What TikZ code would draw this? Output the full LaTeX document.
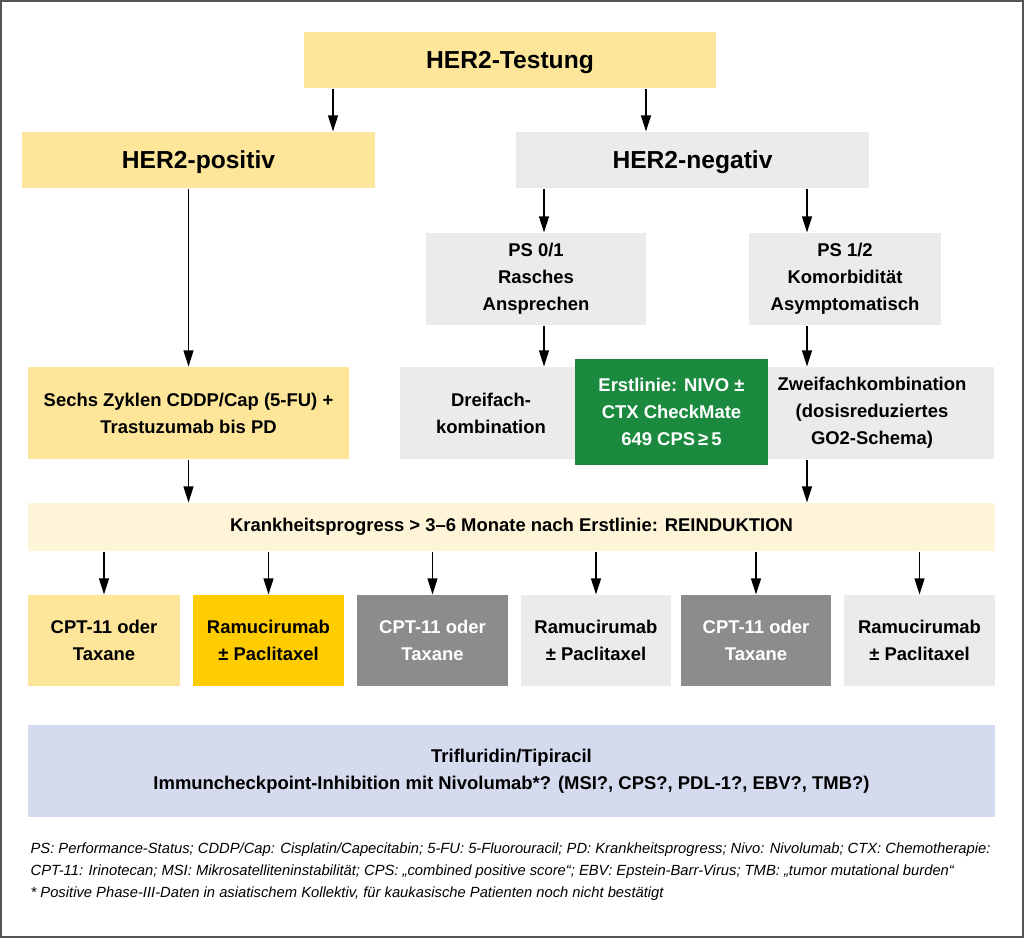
\documentclass[tikz,border=0pt]{standalone}
\usepackage{fontspec}
\setmainfont{Liberation Sans}
\usetikzlibrary{arrows.meta}

\definecolor{gelbhell}{HTML}{FDE69A}
\definecolor{gelbbalken}{HTML}{FEF5D8}
\definecolor{gold}{HTML}{FFCC00}
\definecolor{grauhell}{HTML}{EBEBEB}
\definecolor{graumittel}{HTML}{8C8C8C}
\definecolor{gruen}{HTML}{1B8A3F}
\definecolor{lavendel}{HTML}{D5DBEF}
\definecolor{rahmen}{HTML}{555555}

\newcommand{\titelfont}{\bfseries\fontsize{14}{16}\selectfont}
\newcommand{\boxfont}{\bfseries\fontsize{10.5}{15.3}\selectfont}
\newcommand{\notizfont}{\itshape\fontsize{8.4}{13}\selectfont}

\begin{document}
\begin{tikzpicture}[x=0.02cm, y=-0.02cm, line width=0.7pt,
    box/.style={fill=#1, inner sep=0pt, align=center, font=\boxfont},
    titel/.style={box=#1, font=\titelfont, text depth=0pt, minimum height=1.12cm},
    pfeil/.style={-{Triangle[length=0.32cm, width=0.2cm]}},
    notiz/.style={anchor=base west, inner sep=0pt, font=\notizfont}]
    \useasboundingbox (0,0) rectangle (1024,943);
    % Rahmen
    \draw[rahmen, line width=1.1pt] (1,1) rectangle (1023,937);

    % Spalten fuer die Pfeile
    \coordinate (k1) at (333,0);
    \coordinate (k2) at (646,0);
    \coordinate (k3) at (544,0);
    \coordinate (k4) at (807,0);

    % Testung und Zweige
    \node[titel=gelbhell, minimum width=8.24cm] (test) at (510,60) {HER2-Testung};
    \node[titel=gelbhell, minimum width=7.06cm] (pos) at (198.5,160) {HER2-positiv};
    \node[titel=grauhell, minimum width=7.06cm] (neg) at (692.5,160) {HER2-negativ};

    % PS-Gruppen
    \node[box=grauhell, minimum width=4.4cm, minimum height=1.84cm] (ps01) at (536,279) {PS 0/1\\Rasches\\Ansprechen};
    \node[box=grauhell, minimum width=3.84cm, minimum height=1.84cm] (ps12) at (845,279) {PS 1/2\\Komorbidität\\Asymptomatisch};

    % Erstlinie
    \node[box=gelbhell, minimum width=6.42cm, minimum height=1.84cm] (sechs) at (188.5,413) {Sechs Zyklen CDDP/Cap (5-FU) +\\Trastuzumab bis PD};
    \node[box=grauhell, minimum width=3.64cm, minimum height=1.84cm] (drei) at (491,413) {Dreifach-\\kombination};
    \node[box=grauhell, minimum width=4.88cm, minimum height=1.84cm] (zwei) at (872,413) {Zweifachkombination\\(dosisreduziertes\\GO2-Schema)};
    \node[box=gruen, text=white, minimum width=3.86cm, minimum height=2.12cm] (cm649) at (671.5,412) {Erstlinie: NIVO ±\\CTX CheckMate\\649 CPS\,≥\,5};

    % Reinduktion
    \node[box=gelbbalken, minimum width=19.34cm, minimum height=0.96cm] (prog) at (511.5,527) {Krankheitsprogress > 3–6 Monate nach Erstlinie: REINDUKTION};

    % Zweitlinie
    \node[box=gelbhell, minimum width=3.04cm, minimum height=1.82cm] (t1) at (104,640.5) {CPT-11 oder\\Taxane};
    \node[box=gold, minimum width=3.02cm, minimum height=1.82cm] (t2) at (268.5,640.5) {Ramucirumab\\± Paclitaxel};
    \node[box=graumittel, text=white, minimum width=3.02cm, minimum height=1.82cm] (t3) at (432.5,640.5) {CPT-11 oder\\Taxane};
    \node[box=grauhell, minimum width=3.0cm, minimum height=1.82cm] (t4) at (596,640.5) {Ramucirumab\\± Paclitaxel};
    \node[box=graumittel, text=white, minimum width=3.0cm, minimum height=1.82cm] (t5) at (756,640.5) {CPT-11 oder\\Taxane};
    \node[box=grauhell, minimum width=3.02cm, minimum height=1.82cm] (t6) at (919.5,640.5) {Ramucirumab\\± Paclitaxel};

    % Drittlinie
    \node[box=lavendel, minimum width=19.34cm, minimum height=1.84cm] (trif) at (511.5,771) {Trifluridin/Tipiracil\\Immuncheckpoint-Inhibition mit Nivolumab*? (MSI?, CPS?, PDL-1?, EBV?, TMB?)};

    % Pfeile
    \draw[pfeil] (test.south -| k1) -- (pos.north -| k1);
    \draw[pfeil] (test.south -| k2) -- (neg.north -| k2);
    \draw[pfeil] (neg.south -| k3) -- (ps01.north -| k3);
    \draw[pfeil] (neg.south -| k4) -- (ps12.north -| k4);
    \draw[pfeil] (ps01.south -| k3) -- (drei.north -| k3);
    \draw[pfeil] (ps12.south -| k4) -- (zwei.north -| k4);
    \draw[pfeil] (pos.south -| sechs.north) -- (sechs.north);
    \draw[pfeil] (sechs.south) -- (sechs.south |- prog.north);
    \draw[pfeil] (zwei.south -| k4) -- (prog.north -| k4);
    \foreach \n in {t1,t2,t3,t4,t5,t6}
        \draw[pfeil] (prog.south -| \n.north) -- (\n.north);

    % Fussnoten
    \node[notiz] (fn1) at (30,853) {PS: Performance-Status; CDDP/Cap: Cisplatin/Capecitabin; 5-FU: 5-Fluorouracil; PD: Krankheitsprogress; Nivo: Nivolumab; CTX: Chemotherapie:};
    \node[notiz] (fn2) at (30,875) {CPT-11: Irinotecan; MSI: Mikrosatelliteninstabilität; CPS: „combined positive score“; EBV: Epstein-Barr-Virus; TMB: „tumor mutational burden“};
    \node[notiz] (fn3) at (30,897) {* Positive Phase-III-Daten in asiatischem Kollektiv, für kaukasische Patienten noch nicht bestätigt};
\end{tikzpicture}
\end{document}
